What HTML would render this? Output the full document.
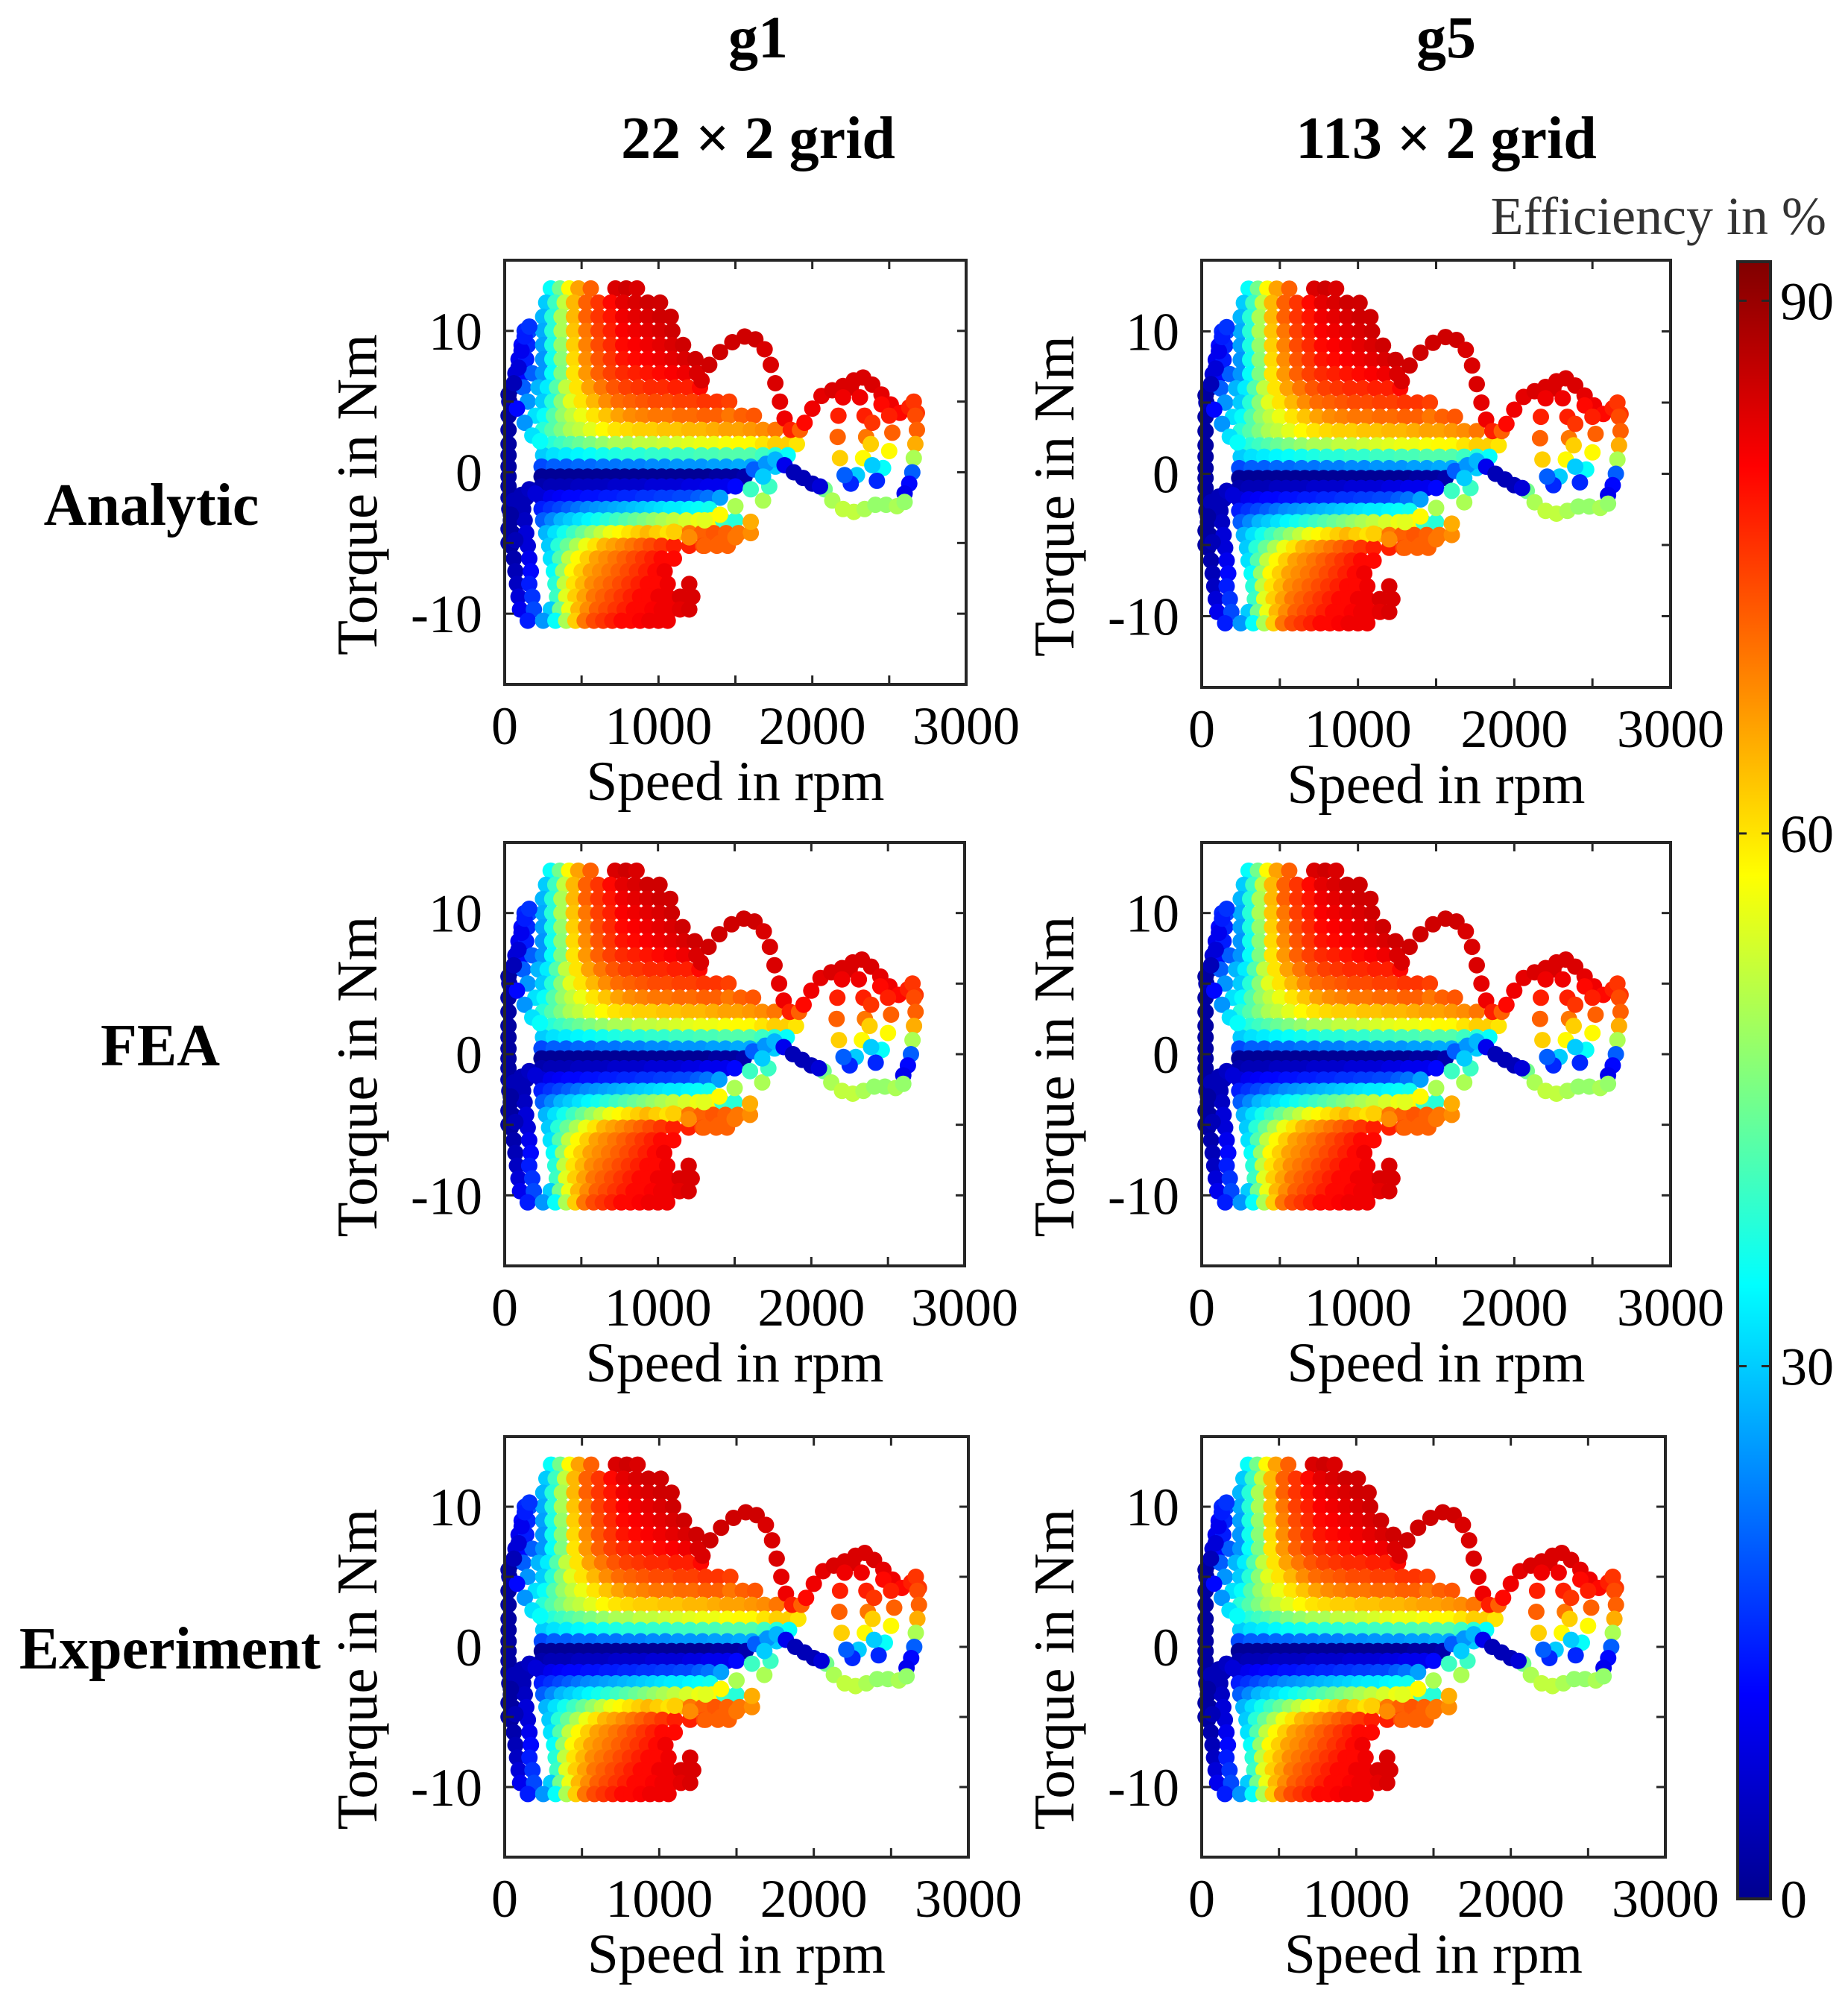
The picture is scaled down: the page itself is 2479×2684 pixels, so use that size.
<!DOCTYPE html>
<html><head><meta charset="utf-8"><style>
html,body{margin:0;padding:0;background:#fff;}
svg{display:block;font-family:"Liberation Serif",serif;}
</style></head><body>
<svg id="fig" width="2479" height="2684" viewBox="0 0 2479 2684" xmlns="http://www.w3.org/2000/svg">
<defs><linearGradient id="jet" x1="0" y1="1" x2="0" y2="0">
<stop offset="0" stop-color="#00008f"/><stop offset="0.125" stop-color="#0000ff"/><stop offset="0.375" stop-color="#00ffff"/><stop offset="0.625" stop-color="#ffff00"/><stop offset="0.875" stop-color="#ff0000"/><stop offset="1" stop-color="#800000"/></linearGradient></defs>
<text x="1017" y="77" font-size="80" font-weight="bold" text-anchor="middle">g1</text>
<text x="1017" y="212" font-size="80" font-weight="bold" text-anchor="middle">22 × 2 grid</text>
<text x="1940" y="77" font-size="80" font-weight="bold" text-anchor="middle">g5</text>
<text x="1940" y="212" font-size="80" font-weight="bold" text-anchor="middle">113 × 2 grid</text>
<text x="203" y="704" font-size="80" font-weight="bold" text-anchor="middle">Analytic</text>
<text x="215" y="1429" font-size="80" font-weight="bold" text-anchor="middle">FEA</text>
<text x="228" y="2238" font-size="80" font-weight="bold" text-anchor="middle">Experiment</text>
<text x="2450" y="314" font-size="72" fill="#333" text-anchor="end">Efficiency in %</text>
<rect x="2331" y="351" width="44" height="2196" fill="url(#jet)" stroke="#262626" stroke-width="4"/>
<g id="cbticks"></g>
<g id="panels"></g>
</svg>
<script>
const cbTicks = [0, 30, 60, 90];
const cbMax = 92.2;
const xTicks = [0, 1000, 2000, 3000];
const yTicks = [-10, 0, 10];
const rowTorque = [13,12,11,10,9,8,7,6,5,4,3,2,1.2,0.4,-0.3,-1,-1.8,-2.6,-3.4,-4.3,-5.2,-6.1,-7,-7.9,-8.8,-9.7,-10.5];
const rowSpeeds = [
[300,360,420,480,560,720,790,860],
[270,330,390,450,530,610,690,770,850,930,1010],
[250,310,370,450,530,610,690,770,850,930,1010,1080],
[130,160,250,310,370,450,530,610,690,770,850,930,1010,1090],
[110,150,250,310,370,450,530,610,690,770,850,930,1010,1090,1160],
[90,140,250,310,370,450,530,610,690,770,850,930,1010,1090,1170,1240],
[70,120,180,250,310,370,450,530,610,690,770,850,930,1010,1090,1170,1250],
[50,120,220,280,340,400,470,550,630,710,790,870,950,1030,1110,1190,1270],
[30,150,250,310,370,430,500,580,660,740,820,900,980,1060,1140,1220,1300,1380,1460],
[25,200,260,320,380,440,500,580,660,740,820,900,980,1060,1140,1220,1300,1380,1460,1540,1620],
[25,250,310,370,430,490,560,640,720,800,880,960,1040,1120,1200,1280,1360,1440,1520,1600,1680,1760],
[25,250,310,370,430,490,560,640,720,800,880,960,1040,1120,1200,1280,1360,1440,1520,1600,1680,1760,1840,1900],
[25,250,320,400,480,560,640,720,800,880,960,1040,1120,1200,1280,1360,1440,1520,1600,1680,1760,1840],
[25,240,320,400,480,560,640,720,800,880,960,1040,1120,1200,1280,1360,1440,1520,1600,1680,1760],
[25,240,300,360,420,480,540,600,660,720,780,840,900,960,1020,1080,1140,1200,1260,1320,1380,1440,1500,1560],
[25,240,300,360,420,480,540,600,660,720,780,840,900,960,1020,1080,1140,1200,1260,1320,1380,1440,1500],
[25,140,240,300,360,420,480,540,600,660,720,780,840,900,960,1020,1080,1140,1200,1260,1320,1400],
[30,120,240,300,360,420,480,540,600,660,720,780,840,900,960,1020,1080,1140,1200,1260,1330],
[40,130,250,310,370,430,490,550,610,670,730,790,850,910,970,1030,1100,1180,1260,1340,1420,1500],
[50,140,270,330,390,450,510,570,630,690,750,810,870,930,990,1060,1120,1200,1280,1360,1440,1520,1600],
[40,150,290,350,410,470,530,590,650,710,770,830,890,950,1020,1100,1200,1290,1380,1450],
[60,160,300,360,420,480,540,600,660,720,780,840,900,960,1020,1100],
[70,170,320,380,440,500,560,620,680,740,800,860,920,980,1040],
[80,160,330,390,450,510,570,630,690,750,810,870,930,990,1060,1200],
[90,180,340,400,460,520,580,640,700,760,820,880,940,1000,1060,1140,1220],
[100,190,300,360,420,480,540,600,660,720,780,840,900,960,1020,1080,1140,1200],
[150,250,330,400,460,520,580,640,700,760,820,880,940,1000,1060]];
const rowEff = [
[35,45,58,66,72,84,85,84],
[30,40,52,64,72,76,80,83,84,85,85],
[28,38,50,64,72,76,79,82,83,84,85,85],
[15,18,27,38,50,63,70,75,78,81,82,83,84,85],
[12,15,26,37,48,62,69,74,77,80,81,82,83,84,85],
[10,14,25,36,47,61,68,73,76,79,80,81,82,83,84,85],
[8,12,20,25,35,46,60,67,72,75,77,78,79,80,81,82,84],
[5,20,28,33,42,52,60,66,70,73,75,76,77,77,78,78,80],
[4,25,30,38,47,55,60,64,68,71,72,73,74,74,75,75,76,76,75],
[3,32,35,42,48,52,56,60,63,66,68,69,70,70,71,71,72,72,70,72,73],
[3,38,42,46,50,52,55,58,60,61,62,62,63,63,64,64,65,66,66,67,68,70],
[3,35,38,40,42,44,46,48,50,50,52,52,53,54,55,56,56,57,58,58,60,62,62,60],
[3,30,32,33,34,35,36,37,38,38,39,39,40,40,41,41,42,42,42,40,38,35],
[3,18,20,20,21,21,22,22,23,23,24,24,25,25,25,26,26,27,27,28,30],
[3,2,2,2,2,2,2,2,2,2,2,2,2,2,2,2,2,2,2,2,3,3,3,4],
[3,4,5,5,5,6,6,6,6,7,7,7,7,8,8,8,8,9,9,10,10,10,12],
[3,5,8,10,11,12,12,13,13,14,14,15,15,16,16,17,17,18,18,20,22,26],
[3,5,14,16,18,20,22,24,25,26,27,28,29,30,31,32,33,33,34,35,36],
[3,6,20,24,28,30,32,34,36,38,40,42,44,46,48,50,52,54,56,58,40,38],
[3,8,28,32,36,40,44,48,52,56,58,60,62,64,62,60,64,70,72,73,72,70,68],
[3,8,30,38,44,50,56,60,64,66,68,70,72,74,76,78,78,74,72,72],
[4,10,32,42,52,58,62,66,68,70,72,74,76,78,80,80],
[5,12,35,48,58,62,66,68,70,72,74,76,78,80,82],
[6,14,38,52,60,64,68,70,72,74,76,78,80,80,82,84],
[8,16,40,55,62,66,70,72,74,76,78,80,80,82,82,84,84],
[10,18,30,45,56,64,68,72,74,76,78,80,80,81,82,82,83,84],
[14,25,35,50,62,70,74,76,78,80,80,81,82,82,82]];
const arcPts = [[1280,6.5,84],[1330,7.6,85],[1400,8.5,85],[1480,9.2,85],[1560,9.6,85],[1630,9.4,85],[1690,8.7,84],[1730,7.6,84],[1760,6.3,84],[1790,5,83],[1820,3.8,82],[1860,3,78],[1920,3,72]];
const rightTop = [[1950,3.5,80],[2000,4.5,82],[2060,5.4,83],[2130,5.8,84],[2200,6.1,84],[2270,6.5,84],[2330,6.7,84],[2390,6.2,84],[2450,5.5,83],[2510,4.8,82],[2570,4.2,80],[2630,4.6,78],[2680,4.2,76]];
const loop1 = [[2250,6,84],[2310,5.3,82],[2340,4,78],[2350,2.5,70],[2330,1,58],[2290,-0.2,30],[2250,-0.8,15],[2210,-0.2,20],[2180,1,62],[2165,2.5,72],[2170,4,78],[2200,5.3,82]];
const loop2 = [[2450,4.8,80],[2500,4,78],[2520,2.8,72],[2500,1.5,58],[2460,0.3,35],[2420,-0.6,15],[2390,0.5,30],[2380,2,62],[2390,3.5,76]];
const rightCol = [[2660,5,76],[2670,4,74],[2680,3,72],[2670,2,65],[2660,1,50],[2650,0,20],[2630,-0.8,12],[2600,-1.5,10]];
const lowerRight = [[2080,-1.2,45],[2130,-2,50],[2200,-2.6,52],[2270,-2.8,52],[2340,-2.6,50],[2410,-2.3,48],[2480,-2.3,48],[2550,-2.4,50],[2600,-2.1,48]];
const darkPath = [[1620,0.2,20],[1700,0.6,25],[1760,0.9,28],[1820,0.5,10],[1880,0,5],[1940,-0.4,5],[2000,-0.8,5],[2050,-1,8]];
const leftStreaks = [[25,5.5,3],[60,6.3,5],[90,7.4,8],[110,8.6,10],[130,9.6,14],[160,10.3,16],[80,4.5,12],[130,3.5,25],[180,2.6,32],[230,2.2,35],[60,-2,5],[110,-1.6,5],[160,-1.2,6],[200,-1.5,8],[25,-4,3],[25,-5,3],[70,-4.8,5],[40,-3,3]];
const lowerArc = [[1100,-4.2,62],[1200,-4.6,68],[1300,-5.2,72],[1400,-5,72],[1500,-4.6,70],[1600,-3.5,65],[1680,-2,50],[1720,-1,40]];
const cyanCurve = [[1300,-3.4,55],[1400,-3,58],[1500,-2.4,50],[1600,-1.2,40],[1680,-0.3,30]];

const panels = [
 {name:'analytic-g1',L:677,R:1296,T:349,B:918},
 {name:'analytic-g5',L:1612,R:2241,T:349,B:922},
 {name:'fea-g1',L:677,R:1294,T:1130,B:1698},
 {name:'fea-g5',L:1612,R:2241,T:1130,B:1698},
 {name:'experiment-g1',L:677,R:1299,T:1927,B:2491},
 {name:'experiment-g5',L:1612,R:2234,T:1927,B:2491}];
const NS='http://www.w3.org/2000/svg';
function mk(tag, attrs){const e=document.createElementNS(NS,tag);for(const k in attrs)e.setAttribute(k,attrs[k]);return e;}
function jet(v){let t=Math.max(0,Math.min(1,v/cbMax));const c=x=>Math.round(255*Math.max(0,Math.min(1,1.5-Math.abs(x))));return `rgb(${c(4*t-3)},${c(4*t-2)},${c(4*t-1)})`;}
const root=document.getElementById('panels');
const allPts=[];
rowTorque.forEach((tq,i)=>rowSpeeds[i].forEach((s,j)=>allPts.push([s,tq,rowEff[i][j]])));
[arcPts,rightTop,loop1,loop2,rightCol,lowerRight,darkPath,leftStreaks,lowerArc,cyanCurve].forEach(a=>a.forEach(p=>allPts.push(p)));
panels.forEach(P=>{
 const g=mk('g',{});
 
 
 const sx=v=>P.L+(v-0)/3000*(P.R-P.L);
 const sy=v=>P.B-(v+15)/30*(P.B-P.T);
 const pg=mk('g',{});
 
 
 allPts.forEach(p=>{
  const c=mk('circle',{cx:sx(p[0]).toFixed(1),cy:sy(p[1]).toFixed(1),r:11,fill:jet(p[2])});
  
  
  pg.appendChild(c);
 });
 g.appendChild(pg);
 const box=mk('rect',{x:P.L,y:P.T,width:P.R-P.L,height:P.B-P.T,fill:'none',stroke:'#262626','stroke-width':4});
 
 
 g.appendChild(box);
 for(let v=0;v<=3000;v+=500){const x=sx(v);
  g.appendChild(mk('line',{x1:x,x2:x,y1:P.B,y2:P.B-12,stroke:'#262626','stroke-width':3}));
  g.appendChild(mk('line',{x1:x,x2:x,y1:P.T,y2:P.T+12,stroke:'#262626','stroke-width':3}));}
 for(let v=-15;v<=15;v+=5){const y=sy(v);
  g.appendChild(mk('line',{x1:P.L,x2:P.L+12,y1:y,y2:y,stroke:'#262626','stroke-width':3}));
  g.appendChild(mk('line',{x1:P.R,x2:P.R-12,y1:y,y2:y,stroke:'#262626','stroke-width':3}));}
 xTicks.forEach(v=>{const t=mk('text',{x:sx(v),y:P.B+80,'font-size':72,'text-anchor':'middle'});t.textContent=v;
  
  
  g.appendChild(t);});
 yTicks.forEach(v=>{const t=mk('text',{x:P.L-30,y:sy(v)+25,'font-size':72,'text-anchor':'end'});t.textContent=v;
  
  
  g.appendChild(t);});
 const xl=mk('text',{x:(P.L+P.R)/2,y:P.B+155,'font-size':75,'text-anchor':'middle'});xl.textContent='Speed in rpm';
 
 
 g.appendChild(xl);
 const cy=(P.T+P.B)/2+30, cx=P.L-172;
 const yl=mk('text',{x:cx,y:cy,'font-size':77,'text-anchor':'middle',transform:`rotate(-90 ${cx} ${cy})`});yl.textContent='Torque in Nm';
 
 
 g.appendChild(yl);
 root.appendChild(g);
});
const cb=document.getElementById('cbticks');
const cbY=v=>2547-(v/cbMax)*(2547-351);
cbTicks.forEach(v=>{const y=cbY(v);
 cb.appendChild(mk('line',{x1:2375,x2:2363,y1:y,y2:y,stroke:'#262626','stroke-width':3}));
 cb.appendChild(mk('line',{x1:2331,x2:2343,y1:y,y2:y,stroke:'#262626','stroke-width':3}));
 const t=mk('text',{x:2388,y:y+25,'font-size':72});t.textContent=v;
 
 
 cb.appendChild(t);});
</script>
</body></html>
